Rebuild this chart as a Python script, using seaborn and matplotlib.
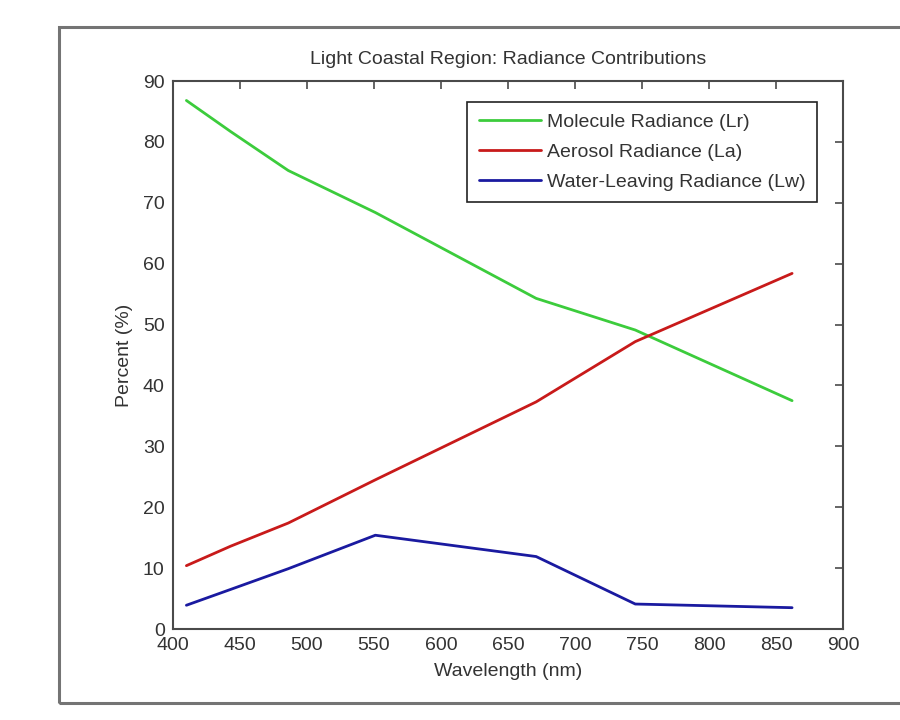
import matplotlib
matplotlib.use("Agg")
import matplotlib.pyplot as plt
import pandas as pd
import seaborn as sns
from matplotlib.patches import Rectangle

# ---- data ----
wavelengths = [410, 443, 486, 551, 671, 745, 862]
molecule = [86.8, 81.7, 75.3, 68.4, 54.3, 49.1, 37.5]
aerosol = [10.4, 13.6, 17.4, 24.5, 37.3, 47.2, 58.4]
water_leaving = [3.9, 6.5, 9.9, 15.4, 11.9, 4.1, 3.5]
series_names = ["Molecule Radiance (Lr)", "Aerosol Radiance (La)", "Water-Leaving Radiance (Lw)"]
x_ticks = [400, 450, 500, 550, 600, 650, 700, 750, 800, 850, 900]
y_ticks = [0, 10, 20, 30, 40, 50, 60, 70, 80, 90]
title = "Light Coastal Region: Radiance Contributions"
x_label = "Wavelength (nm)"
y_label = "Percent (%)"

colors = ["#3ccc3c", "#c81a1a", "#1a1aa0"]

rows = []
for name, vals in zip(series_names, [molecule, aerosol, water_leaving]):
    for w, v in zip(wavelengths, vals):
        rows.append({"Wavelength": w, "Percent": v, "Series": name})
df = pd.DataFrame(rows)

sns.set_style("white")
plt.rcParams["font.family"] = ["Liberation Sans", "DejaVu Sans"]
plt.rcParams["font.size"] = 14
text_col = "#333333"
spine_col = "#4a4a4a"

fig = plt.figure(figsize=(9, 7.2), dpi=100)
fig.patch.set_facecolor("white")
ax = fig.add_axes([173 / 900, 1 - 629 / 720, (843 - 173) / 900, (629 - 81) / 720])

sns.lineplot(data=df, x="Wavelength", y="Percent", hue="Series",
             hue_order=series_names, palette=colors, sort=False,
             linewidth=2.0, ax=ax)

ax.set_xlim(400, 900)
ax.set_ylim(0, 90)
ax.set_xticks(x_ticks)
ax.set_yticks(y_ticks)
ax.tick_params(direction="in", length=6, width=1.2, color=spine_col,
               labelsize=14, labelcolor=text_col, top=True, right=True,
               labeltop=False, labelright=False)
ax.tick_params(axis="x", pad=6)
ax.tick_params(axis="y", pad=6)
for s in ax.spines.values():
    s.set_visible(True)
    s.set_color(spine_col)
    s.set_linewidth(1.5)

ax.set_title(title, fontsize=14, color=text_col, pad=12.5)
ax.set_xlabel(x_label, fontsize=14, color=text_col, labelpad=6)
ax.set_ylabel(y_label, fontsize=14, color=text_col, labelpad=7)

leg = ax.legend(loc="upper right", bbox_to_anchor=((817 - 173) / 670, (629 - 102) / 548),
                borderaxespad=0, fontsize=14, frameon=True, fancybox=False,
                handlelength=3.2, handletextpad=0.3, labelspacing=0.62,
                borderpad=0.6, framealpha=1)
leg.get_frame().set_edgecolor("#222222")
leg.get_frame().set_linewidth(1.2)
for t in leg.get_texts():
    t.set_color(text_col)
for h in leg.get_lines():
    h.set_linewidth(2.0)

# figure border frame like the reference screenshot
fig.patches.append(Rectangle((59 / 900, (720 - 703) / 720), 1.2, (703 - 27) / 720,
                             transform=fig.transFigure, fill=False,
                             edgecolor="#747474", linewidth=2.2, clip_on=False))

fig.savefig("out.png", dpi=100, facecolor="white")
